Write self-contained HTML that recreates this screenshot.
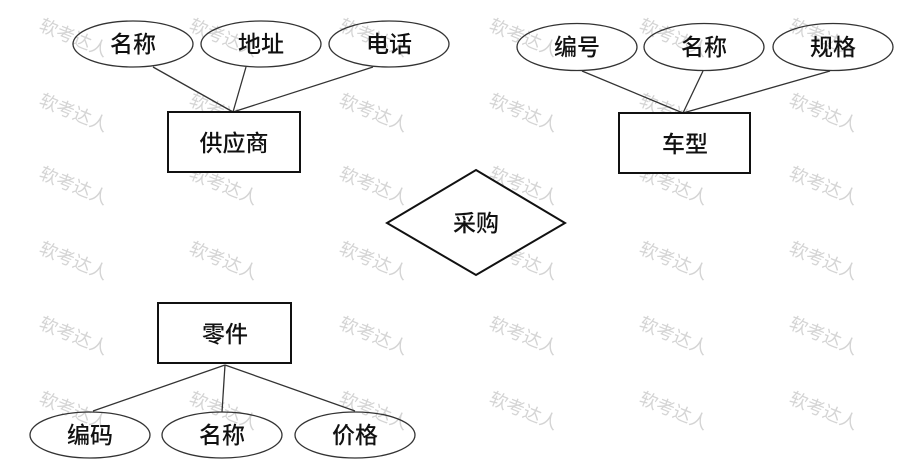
<!DOCTYPE html>
<html><head><meta charset="utf-8"><style>
html,body{margin:0;padding:0;background:#fff;}
svg{display:block;}
text{font-family:"Liberation Sans","Noto Sans CJK SC",sans-serif;}
</style></head><body>
<svg width="915" height="465" viewBox="0 0 915 465" xmlns="http://www.w3.org/2000/svg">
<g fill="#d4d4d4" font-size="18" font-family="'Noto Sans CJK SC',sans-serif">
<text transform="translate(38,30) rotate(22)">软考达人</text>
<text transform="translate(188,30) rotate(22)">软考达人</text>
<text transform="translate(338,30) rotate(22)">软考达人</text>
<text transform="translate(488,30) rotate(22)">软考达人</text>
<text transform="translate(638,30) rotate(22)">软考达人</text>
<text transform="translate(788,30) rotate(22)">软考达人</text>
<text transform="translate(38,105) rotate(22)">软考达人</text>
<text transform="translate(188,105) rotate(22)">软考达人</text>
<text transform="translate(338,105) rotate(22)">软考达人</text>
<text transform="translate(488,105) rotate(22)">软考达人</text>
<text transform="translate(638,105) rotate(22)">软考达人</text>
<text transform="translate(788,105) rotate(22)">软考达人</text>
<text transform="translate(38,178) rotate(22)">软考达人</text>
<text transform="translate(188,178) rotate(22)">软考达人</text>
<text transform="translate(338,178) rotate(22)">软考达人</text>
<text transform="translate(488,178) rotate(22)">软考达人</text>
<text transform="translate(638,178) rotate(22)">软考达人</text>
<text transform="translate(788,178) rotate(22)">软考达人</text>
<text transform="translate(38,253) rotate(22)">软考达人</text>
<text transform="translate(188,253) rotate(22)">软考达人</text>
<text transform="translate(338,253) rotate(22)">软考达人</text>
<text transform="translate(488,253) rotate(22)">软考达人</text>
<text transform="translate(638,253) rotate(22)">软考达人</text>
<text transform="translate(788,253) rotate(22)">软考达人</text>
<text transform="translate(38,328) rotate(22)">软考达人</text>
<text transform="translate(188,328) rotate(22)">软考达人</text>
<text transform="translate(338,328) rotate(22)">软考达人</text>
<text transform="translate(488,328) rotate(22)">软考达人</text>
<text transform="translate(638,328) rotate(22)">软考达人</text>
<text transform="translate(788,328) rotate(22)">软考达人</text>
<text transform="translate(38,403) rotate(22)">软考达人</text>
<text transform="translate(188,403) rotate(22)">软考达人</text>
<text transform="translate(338,403) rotate(22)">软考达人</text>
<text transform="translate(488,403) rotate(22)">软考达人</text>
<text transform="translate(638,403) rotate(22)">软考达人</text>
<text transform="translate(788,403) rotate(22)">软考达人</text>
</g>
<g stroke="#333" stroke-width="1.3" fill="none">
<line x1="153" y1="67" x2="233" y2="112"/>
<line x1="246" y1="67" x2="233" y2="112"/>
<line x1="373" y1="67" x2="233" y2="112"/>
<line x1="582" y1="71" x2="683" y2="113"/>
<line x1="703" y1="71" x2="683" y2="113"/>
<line x1="830" y1="71" x2="683" y2="113"/>
<line x1="93" y1="411" x2="225" y2="365"/>
<line x1="222" y1="412" x2="225" y2="365"/>
<line x1="355" y1="411" x2="225" y2="365"/>
<ellipse cx="133" cy="44" rx="60" ry="23"/>
<ellipse cx="261" cy="44" rx="60" ry="23"/>
<ellipse cx="389" cy="44" rx="60" ry="23"/>
<ellipse cx="577" cy="47" rx="60" ry="23.5"/>
<ellipse cx="704" cy="47" rx="60" ry="23.5"/>
<ellipse cx="833" cy="47" rx="60" ry="23.5"/>
<ellipse cx="90" cy="435" rx="60" ry="23"/>
<ellipse cx="222" cy="435" rx="60" ry="23"/>
<ellipse cx="355" cy="435" rx="60" ry="23"/>
</g>
<g stroke="#111" stroke-width="2" fill="#fff">
<rect x="168" y="112" width="132" height="60"/>
<rect x="619" y="113" width="131" height="60"/>
<rect x="158" y="303" width="133" height="60"/>
<polygon points="476,170 565,223 476,275 387,223"/>
</g>
<g fill="#111" font-size="23" font-weight="500" text-anchor="middle">
<text x="133" y="52">名称</text>
<text x="261" y="52">地址</text>
<text x="389" y="52">电话</text>
<text x="577" y="55">编号</text>
<text x="704" y="55">名称</text>
<text x="833" y="55">规格</text>
<text x="90" y="443">编码</text>
<text x="222" y="443">名称</text>
<text x="355" y="443">价格</text>
<text x="234" y="151">供应商</text>
<text x="685" y="152">车型</text>
<text x="225" y="342">零件</text>
<text x="476" y="231">采购</text>
</g>
</svg>
</body></html>
